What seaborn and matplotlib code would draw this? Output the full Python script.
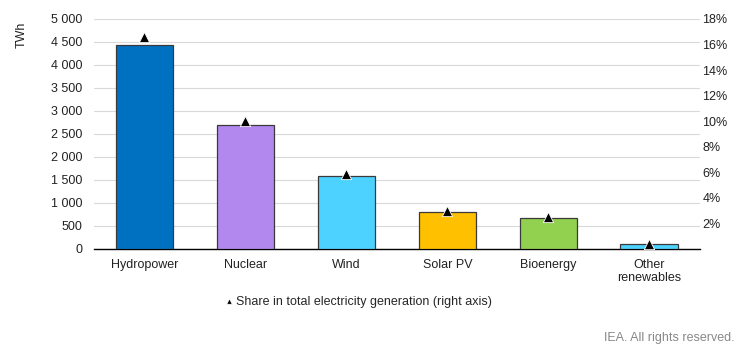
import pandas as pd
import matplotlib
matplotlib.use('Agg')
import matplotlib.pyplot as plt
import seaborn as sns
from matplotlib.ticker import FuncFormatter

# data
sources = ['Hydropower', 'Nuclear', 'Wind', 'Solar PV', 'Bioenergy', 'Other\nrenewables']
generation_twh = [4440, 2700, 1590, 810, 670, 110]
share_pct = [16.6, 10.0, 5.9, 3.0, 2.5, 0.4]
colors = ['#0070C0', '#B388EE', '#4DD2FF', '#FFC000', '#92D050', '#4DD2FF']

df = pd.DataFrame({'source': sources, 'twh': generation_twh, 'share': share_pct})

sns.set_style('white')
plt.rcParams['font.family'] = ['Liberation Sans', 'DejaVu Sans']

fig = plt.figure(figsize=(7.46, 3.51), dpi=100)
ax = fig.add_axes([0.126, 0.291, 0.812, 0.655])

sns.barplot(data=df, x='source', y='twh', hue='source', palette=colors, legend=False,
            width=0.57, edgecolor='#3a3a3a', linewidth=0.9, saturation=1, ax=ax, zorder=3)
ax.set_ylim(0, 5000)
ax.set_xlim(-0.5, 5.5)
ax.set_yticks(range(0, 5001, 500))
ax.yaxis.set_major_formatter(FuncFormatter(lambda v, p: f'{int(v):,}'.replace(',', ' ')))
ax.grid(axis='y', color='#d9d9d9', linewidth=0.8, zorder=0)
ax.set_axisbelow(True)
ax.set_xlabel('')
ax.set_ylabel('TWh', fontsize=9, color='#222222')
ax.yaxis.set_label_coords(-0.109, 0.93)
ax.tick_params(axis='y', length=0, labelsize=9, colors='#222222', pad=8.5)
ax.tick_params(axis='x', length=0, labelsize=9, colors='#222222', pad=7)
for s in ['top', 'left', 'right']:
    ax.spines[s].set_visible(False)
ax.spines['bottom'].set_color('black')
ax.spines['bottom'].set_linewidth(1)

ax2 = ax.twinx()
sns.scatterplot(data=df, x='source', y='share', marker='^', color='black', s=55,
                edgecolor='white', linewidth=0.6, ax=ax2, zorder=5,
                label='Share in total electricity generation (right axis)')
ax2.set_ylim(0, 18)
ax2.set_yticks(range(2, 19, 2))
ax2.yaxis.set_major_formatter(FuncFormatter(lambda v, p: f'{int(v)}%'))
ax2.tick_params(axis='y', length=0, labelsize=9, colors='#222222', pad=2)
ax2.set_ylabel('')
for s in ['top', 'left', 'right', 'bottom']:
    ax2.spines[s].set_visible(False)

leg = ax2.legend(loc='center', bbox_to_anchor=(0.435, -0.23), frameon=False, fontsize=9,
                 handletextpad=0.1, markerscale=0.55, handlelength=1)

fig.text(0.985, 0.02, 'IEA. All rights reserved.', ha='right', va='bottom',
         fontsize=9, color='#888888')

plt.savefig('out.png', dpi=100)
